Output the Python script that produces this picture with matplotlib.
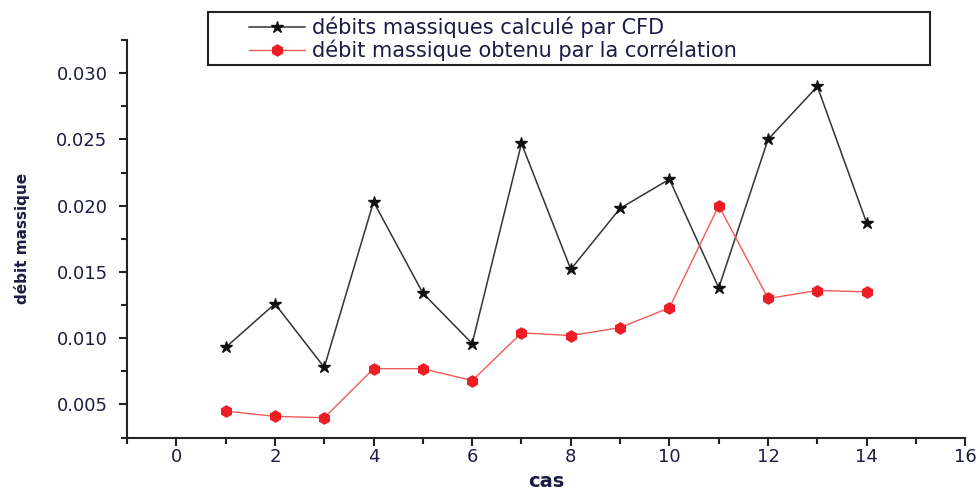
import numpy as np
import matplotlib
matplotlib.use("Agg")
import matplotlib.pyplot as plt
from matplotlib.ticker import MultipleLocator, FormatStrFormatter
from matplotlib.patches import Rectangle

cas = [1, 2, 3, 4, 5, 6, 7, 8, 9, 10, 11, 12, 13, 14]
debit_cfd = [0.0093, 0.0126, 0.0078, 0.0203, 0.0134, 0.0096, 0.0247, 0.0152,
             0.0198, 0.0220, 0.0138, 0.0250, 0.0290, 0.0187]
debit_corr = [0.0045, 0.0041, 0.0040, 0.0077, 0.0077, 0.0068, 0.0104, 0.0102,
              0.0108, 0.0123, 0.0200, 0.0130, 0.0136, 0.0135]

label_cfd = "débits massiques calculé par CFD"
label_corr = "débit massique obtenu par la corrélation"

plt.rcParams['font.family'] = ['DejaVu Sans']
txt = '#1c1c44'

fig = plt.figure(figsize=(9.77, 4.95), dpi=100)
ax = fig.add_axes([0.130, 0.116, 0.858, 0.803])

ax.plot(cas, debit_cfd, color='#333333', lw=1.1, marker='*', ms=9,
        mfc='#111111', mec='#111111', label=label_cfd)
ax.plot(cas, debit_corr, color='#f25a5a', lw=1.0, marker='h', ms=8,
        mfc='#ee1c25', mec='#ee1c25', label=label_corr)

ax.set_xlim(-1, 16)
ax.set_ylim(0.0025, 0.0325)
ax.xaxis.set_major_locator(MultipleLocator(2))
ax.xaxis.set_minor_locator(MultipleLocator(1))
ax.yaxis.set_major_locator(MultipleLocator(0.005))
ax.yaxis.set_minor_locator(MultipleLocator(0.0025))
ax.yaxis.set_major_formatter(FormatStrFormatter('%.3f'))

for s in ['top', 'right']:
    ax.spines[s].set_visible(False)
for s in ['left', 'bottom']:
    ax.spines[s].set_linewidth(1.5)
    ax.spines[s].set_color('#222222')

ax.tick_params(which='major', direction='out', length=6, width=1.5,
               color='#222222', labelsize=13, labelcolor=txt)
ax.tick_params(which='minor', direction='out', length=4, width=1.5,
               color='#222222')
ax.tick_params(axis='x', which='major', pad=1.5)
ax.tick_params(axis='y', which='major', pad=8)

ax.set_xlabel('cas', fontsize=14, fontweight='bold', color=txt, labelpad=4)
ax.set_ylabel('débit massique', fontsize=11, fontweight='bold', color=txt,
              labelpad=19)

# legend box sits above the axes, frame drawn separately
fig.patches.append(Rectangle((208 / 977, 1 - 65 / 495), 722 / 977, 53 / 495,
                             transform=fig.transFigure, fill=False,
                             ec='#222222', lw=1.5))
leg = fig.legend(loc='upper left', bbox_to_anchor=(249 / 977, 1 - 17 / 495),
                 frameon=False, fontsize=15, borderpad=0, borderaxespad=0,
                 labelspacing=0.05, handlelength=2.7, handletextpad=0.3)
for t in leg.get_texts():
    t.set_color(txt)

fig.savefig('out.png', dpi=100)
